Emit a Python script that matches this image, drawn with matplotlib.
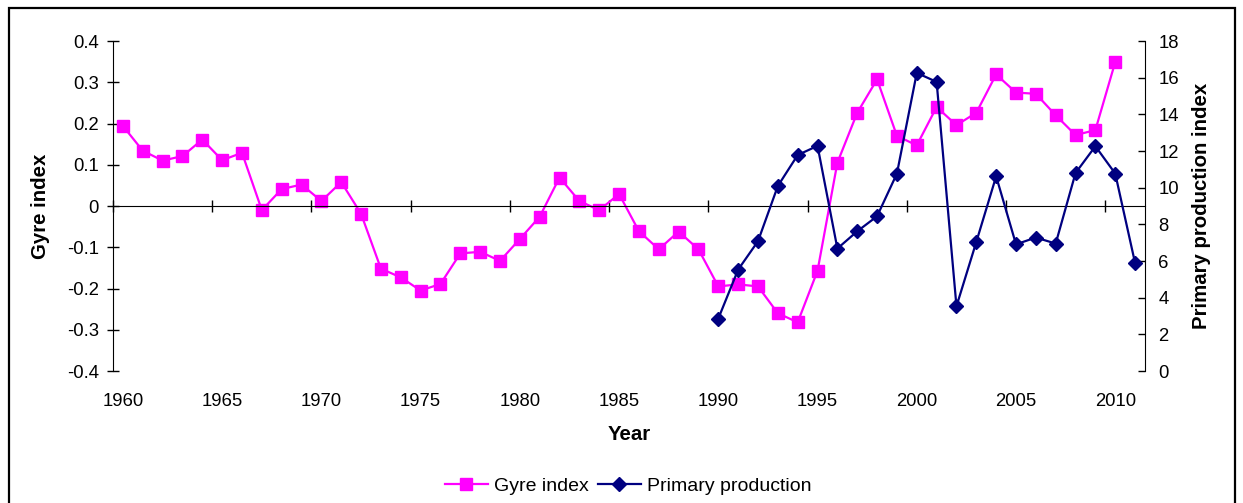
import numpy as np
import matplotlib.pyplot as plt
from matplotlib.patches import Rectangle

plt.rcParams['font.family'] = ['Liberation Sans', 'DejaVu Sans']

# --- data ---
gyre_years = list(range(1960, 2011))
gyre_index = [0.194, 0.134, 0.110, 0.121, 0.161, 0.111, 0.129, -0.010, 0.041, 0.052,
              0.012, 0.058, -0.019, -0.152, -0.173, -0.205, -0.189, -0.115, -0.111, -0.133,
              -0.080, -0.026, 0.069, 0.012, -0.010, 0.029, -0.061, -0.105, -0.062, -0.105,
              -0.195, -0.190, -0.195, -0.260, -0.282, -0.157, 0.105, 0.226, 0.307, 0.170,
              0.147, 0.240, 0.196, 0.226, 0.319, 0.275, 0.272, 0.220, 0.172, 0.184,
              0.349]

pp_years = list(range(1990, 2012))
primary_production = [2.86, 5.53, 7.08, 10.09, 11.78, 12.28, 6.68, 7.62, 8.44, 10.77,
                      16.26, 15.77, 3.53, 7.04, 10.62, 6.91, 7.28, 6.95, 10.80, 12.26,
                      10.77, 5.89]

label_years = list(range(1960, 2011, 5))

W, H = 1243, 503
fig = plt.figure(figsize=(W / 100, H / 100), dpi=100)
ax = fig.add_axes([113 / W, 1 - 371 / H, (1145 - 113) / W, (371 - 41) / H])

# chart area border
fig.patches.append(Rectangle((9 / W, -0.05), (1235 - 9) / W, 1.05 - 8 / H,
                             transform=fig.transFigure, fill=False,
                             edgecolor='black', linewidth=1.6, zorder=0))

l1, = ax.plot(gyre_years, gyre_index, color='#FF00FF', lw=1.6, marker='s',
              markersize=8, markeredgecolor='#FF00FF', label='Gyre index')
ax.set_xlim(1959.5, 2011.5)
ax.set_ylim(-0.4, 0.4)
ax.set_yticks(np.arange(-0.4, 0.41, 0.1))
ax.set_yticklabels(['-0.4', '-0.3', '-0.2', '-0.1', '0', '0.1', '0.2', '0.3', '0.4'])
ax.tick_params(axis='y', direction='inout', length=9, width=1, labelsize=13.3, pad=5.5)

# x axis drawn through zero, ticks between categories
ax.spines['bottom'].set_position(('data', 0))
ax.spines['top'].set_visible(False)
ax.spines['right'].set_visible(False)
ax.set_xticks(np.arange(1959.5, 2012, 5))
ax.tick_params(axis='x', direction='inout', length=9, width=1, labelbottom=False)

# category labels at the bottom
sec = ax.secondary_xaxis('bottom')
sec.spines['bottom'].set_visible(False)
sec.set_xticks(label_years)
sec.set_xticklabels([str(y) for y in label_years])
sec.tick_params(axis='x', length=0, labelsize=13.3, pad=16)
sec.set_xlabel('Year', fontsize=14.7, fontweight='bold', labelpad=11)

ax.set_ylabel('Gyre index', fontsize=14.7, fontweight='bold')
ax.yaxis.set_label_coords(-0.061, 0.5)

ax2 = ax.twinx()
l2, = ax2.plot(pp_years, primary_production, color='#000080', lw=1.6, marker='D',
               markersize=7, label='Primary production')
ax2.set_ylim(0, 18)
ax2.set_yticks(range(0, 19, 2))
ax2.tick_params(axis='y', direction='in', length=5, width=1, labelsize=13.3, pad=9.5)
for s in ['top', 'bottom', 'left']:
    ax2.spines[s].set_visible(False)
ax2.set_ylabel('Primary production index', fontsize=14.7, fontweight='bold')
ax2.yaxis.set_label_coords(1.046, 0.5)

fig.legend(handles=[l1, l2], loc='center', bbox_to_anchor=(628 / W, 1 - 486 / H),
           ncol=2, frameon=False, fontsize=14, handlelength=2.2, handletextpad=0.3,
           columnspacing=0.5, borderaxespad=0)

fig.savefig('out.png', dpi=100)
